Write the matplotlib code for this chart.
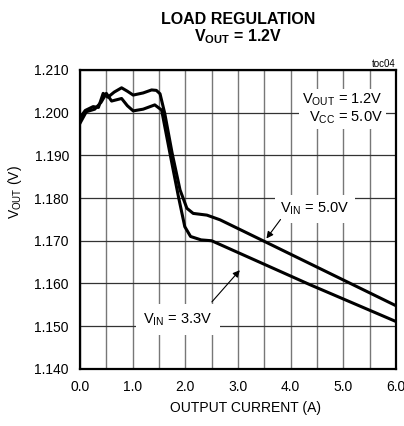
import matplotlib.pyplot as plt
from matplotlib.ticker import MultipleLocator

plt.rcParams['font.family'] = ['Liberation Sans', 'DejaVu Sans']
plt.rcParams['mathtext.fontset'] = 'custom'
plt.rcParams['mathtext.rm'] = 'Liberation Sans'
plt.rcParams['mathtext.bf'] = 'Liberation Sans:bold'

# output current (A) vs output voltage (V)
i_5v0 = [0.0, 0.1, 0.25, 0.35, 0.44, 0.53, 0.65, 0.79, 0.9, 1.01, 1.2, 1.36, 1.45, 1.52,
         1.61, 1.75, 1.9, 2.03, 2.15, 2.41, 2.66, 3.51, 6.0]
v_5v0 = [1.1988, 1.2005, 1.2014, 1.2012, 1.2045, 1.2036, 1.2048, 1.2058, 1.2050, 1.2041,
         1.2046, 1.2053, 1.2052, 1.2044, 1.1998, 1.1905, 1.1819, 1.1776, 1.1764, 1.1760,
         1.1749, 1.1698, 1.1548]

i_3v3 = [0.0, 0.12, 0.28, 0.4, 0.5, 0.6, 0.79, 0.9, 1.01, 1.2, 1.42, 1.55, 1.7,
         1.87, 1.99, 2.1, 2.3, 2.5, 4.37, 6.0]
v_3v3 = [1.1975, 1.2002, 1.2008, 1.2024, 1.2045, 1.2027, 1.2033, 1.2016, 1.2004, 1.2008,
         1.2018, 1.2006, 1.1910, 1.1803, 1.1733, 1.1710, 1.1702, 1.1700, 1.1597, 1.1511]

fig = plt.figure(figsize=(4.04, 4.26), dpi=100)
ax = fig.add_axes([0.198, 0.134, 0.782, 0.702])

ax.plot(i_5v0, v_5v0, color='black', lw=2.2, zorder=3)
ax.plot(i_3v3, v_3v3, color='black', lw=2.2, zorder=3)

ax.set_xlim(0, 6)
ax.set_ylim(1.140, 1.210)
ax.xaxis.set_major_locator(MultipleLocator(1.0))
ax.xaxis.set_minor_locator(MultipleLocator(0.5))
ax.yaxis.set_major_locator(MultipleLocator(0.01))
ax.set_xticklabels([f"{v:.1f}" for v in ax.get_xticks()])
ax.set_yticklabels([f"{v:.3f}" for v in ax.get_yticks()])
ax.tick_params(which='both', length=0, labelsize=10, pad=8)
ax.get_xticklabels()[-1].set_horizontalalignment('right')
ax.grid(True, axis='x', which='both', color='#777777', lw=1.0)
ax.grid(True, axis='y', which='major', color='#333333', lw=0.9)
for s in ax.spines.values():
    s.set_linewidth(1.6)

wbox = dict(facecolor='white', edgecolor='none', pad=2)

ax.text(5.75, 1.2009, "V$_{\\mathrm{OUT}}$ = 1.2V\nV$_{\\mathrm{CC}}$ = 5.0V", ha='right', va='center',
        multialignment='right', fontsize=10.5, linespacing=1.05, bbox=wbox, zorder=4)

ax.text(4.46, 1.1775, "V$_{\\mathrm{IN}}$ = 5.0V", ha='center', va='center', fontsize=10.5,
        bbox=dict(facecolor='white', edgecolor='none', pad=4), zorder=4)
ax.annotate('', xy=(3.51, 1.1700), xytext=(3.84, 1.1755),
            arrowprops=dict(arrowstyle='-|>', color='black', lw=0.8, mutation_scale=10), zorder=5)

ax.text(1.86, 1.1515, "V$_{\\mathrm{IN}}$ = 3.3V", ha='center', va='center', fontsize=10.5,
        bbox=dict(facecolor='white', edgecolor='none', pad=5), zorder=4)
ax.annotate('', xy=(3.07, 1.1636), xytext=(2.47, 1.1552),
            arrowprops=dict(arrowstyle='-|>', color='black', lw=0.8, mutation_scale=10), zorder=5)

fig.text(396 / 404, 1 - 64 / 426, "toc04", ha='right', va='center', fontsize=7)
fig.text(238 / 404, 1 - 19 / 426, "LOAD REGULATION", ha='center', va='center',
         fontsize=11.5, fontweight='bold')
fig.text(238 / 404, 1 - 37 / 426, "V$_{\\mathbf{OUT}}$ = 1.2V", ha='center', va='center',
         fontsize=11.5, fontweight='bold')
fig.text(15 / 404, 1 - 192 / 426, "V$_{\\mathrm{OUT}}$ (V)", rotation=90, ha='center', va='center',
         fontsize=10)
fig.text(245 / 404, 1 - 408 / 426, "OUTPUT CURRENT (A)", ha='center', va='center', fontsize=10)

fig.savefig("out.png", dpi=100)
